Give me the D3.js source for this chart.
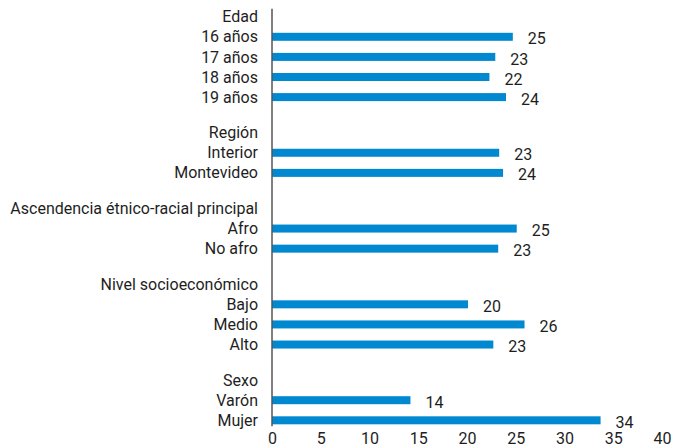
<!DOCTYPE html>
<html>
<head>
<meta charset="utf-8">
<script src="https://cdn.jsdelivr.net/npm/d3@7"></script>
<style>
  body { margin: 0; background: #fff; }
  svg { display: block; font-family: Roboto, "Open Sans", sans-serif; }
</style>
</head>
<body>
<div id="chart"></div>
<script>
// group headers, their categories and the bar values
const groups = ["Edad", "Región", "Ascendencia étnico-racial principal", "Nivel socioeconómico", "Sexo"];
const categories = [
  ["16 años", "17 años", "18 años", "19 años"],
  ["Interior", "Montevideo"],
  ["Afro", "No afro"],
  ["Bajo", "Medio", "Alto"],
  ["Varón", "Mujer"]
];
const values = [
  [24.7, 22.9, 22.3, 24.0],
  [23.3, 23.7],
  [25.1, 23.2],
  [20.1, 25.9, 22.7],
  [14.2, 33.7]
];
const xTicks = [0, 5, 10, 15, 20, 25, 30, 35, 40];

function createChart() {
  const width = 686;
  const height = 448;
  const axisX = 272;
  const rowStep = 20.1;
  const gapRows = 0.77;   // extra space between groups, in rows
  const barH = 8;
  const color = "#0088d1";
  const textColor = "#1e1e1e";
  const fontSize = 16;

  // flatten into rows: header rows and bar rows, each with a slot position
  const rows = [];
  let slot = 0;
  groups.forEach((g, gi) => {
    if (gi > 0) slot += gapRows;
    rows.push({label: g, slot: slot, header: true});
    slot += 1;
    categories[gi].forEach((c, ci) => {
      rows.push({label: c, slot: slot, value: values[gi][ci]});
      slot += 1;
    });
  });
  const lastSlot = slot - 1;

  const y = d3.scaleLinear()
    .domain([0, lastSlot])
    .range([16.7, 16.7 + lastSlot * rowStep]);

  const x = d3.scaleLinear()
    .domain([0, 40])
    .range([axisX, 662]);

  const svg = d3.create("svg")
    .attr("width", width)
    .attr("height", height)
    .attr("viewBox", [0, 0, width, height]);

  // bars
  const bars = rows.filter(d => !d.header);
  svg.append("g")
    .attr("fill", color)
    .selectAll("rect")
    .data(bars)
    .join("rect")
      .attr("x", x(0))
      .attr("y", d => y(d.slot) - barH / 2)
      .attr("width", d => x(d.value) - x(0))
      .attr("height", barH);

  // value labels
  svg.append("g")
    .attr("fill", textColor)
    .attr("font-size", fontSize)
    .selectAll("text")
    .data(bars)
    .join("text")
      .attr("x", d => x(d.value) + 15)
      .attr("y", d => y(d.slot) + 2)
      .attr("dy", "0.35em")
      .text(d => d3.format(".0f")(d.value));

  // category and header labels
  svg.append("g")
    .attr("fill", textColor)
    .attr("font-size", fontSize)
    .attr("text-anchor", "end")
    .selectAll("text")
    .data(rows)
    .join("text")
      .attr("x", axisX - 14)
      .attr("y", d => y(d.slot))
      .attr("dy", "0.35em")
      .text(d => d.label);

  // vertical axis line
  svg.append("line")
    .attr("x1", axisX).attr("x2", axisX)
    .attr("y1", y(0) - 8)
    .attr("y2", y(lastSlot) + 6)
    .attr("stroke", "#555")
    .attr("stroke-width", 1.5);

  // x axis tick labels
  const xAxis = svg.append("g")
    .attr("transform", `translate(0,${y(lastSlot) + 12})`)
    .call(d3.axisBottom(x).tickValues(xTicks).tickSize(0).tickPadding(0));
  xAxis.select(".domain").remove();
  xAxis.selectAll("text")
    .attr("font-family", "Roboto, 'Open Sans', sans-serif")
    .attr("font-size", fontSize)
    .attr("fill", textColor)
    .attr("dy", "0.71em");

  return svg.node();
}

document.getElementById("chart").appendChild(createChart());
</script>
</body>
</html>
